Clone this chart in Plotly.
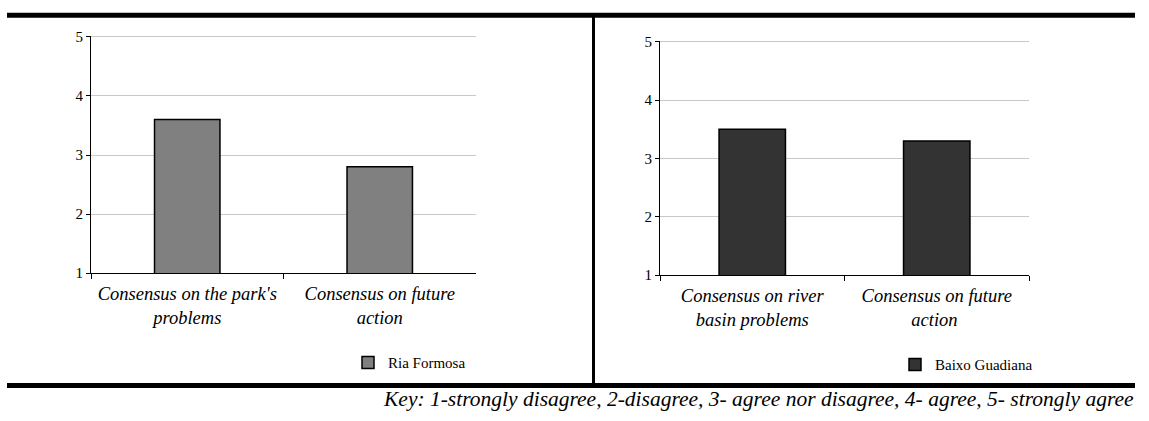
import plotly.graph_objects as go

W, H = 1149, 421

# ---- data ----
left_categories = ["Consensus on the park's<br>problems", "Consensus on future<br>action"]
left_values = [3.6, 2.8]
left_series = "Ria Formosa"

right_categories = ["Consensus on river<br>basin problems", "Consensus on future<br>action "]
right_values = [3.5, 3.3]
right_series = "Baixo Guadiana"

y_ticks = [1, 2, 3, 4, 5]
y_range = [1, 5.02]
key_text = "Key: 1-strongly disagree, 2-disagree, 3- agree nor disagree, 4- agree, 5- strongly agree"

FONT = "Liberation Serif"

def px(x):
    return x / W

def py(y):
    return 1 - y / H

fig = go.Figure()
fig.add_trace(go.Bar(
    x=left_categories, y=left_values, name=left_series, width=0.34,
    marker=dict(color="#808080", line=dict(color="black", width=1.5)),
    xaxis="x", yaxis="y", legend="legend",
))
fig.add_trace(go.Bar(
    x=right_categories, y=right_values, name=right_series, width=0.36,
    marker=dict(color="#333333", line=dict(color="black", width=1.5)),
    xaxis="x2", yaxis="y2", legend="legend2",
))

xcommon = dict(
    type="category", range=[-0.5, 1.5], showline=True, linecolor="black", linewidth=1,
    ticks="outside", ticklen=5, tickcolor="black", tickson="boundaries",
    showgrid=False, fixedrange=True, ticklabelstandoff=4,
    tickfont=dict(family=FONT, size=18.5, color="black", style="italic"),
)
ycommon = dict(
    range=y_range, tickvals=y_ticks, showline=True, linecolor="black", linewidth=1,
    ticks="outside", ticklen=4, tickcolor="black", showgrid=True, gridcolor="#c8c8c8",
    gridwidth=1, zeroline=False, fixedrange=True,
    tickfont=dict(family=FONT, size=15, color="black"),
)

# left panel: value 1 at y=276px, value 5 at y=31px ; right: 1 at 278px, 5 at 36px
l_scale = (276 - 31) / 4
r_scale = (278 - 36) / 4
l_top = 31 - (y_range[1] - 5) * l_scale
r_top = 36 - (y_range[1] - 5) * r_scale

fig.update_layout(
    width=W, height=H,
    margin=dict(l=0, r=0, t=0, b=0),
    paper_bgcolor="white", plot_bgcolor="white",
    xaxis=dict(domain=[px(91), px(476)], anchor="y", **xcommon),
    yaxis=dict(domain=[py(276), py(l_top)], anchor="x", **ycommon),
    xaxis2=dict(domain=[px(660), px(1029)], anchor="y2", **xcommon),
    yaxis2=dict(domain=[py(278), py(r_top)], anchor="x2", **ycommon),
    legend=dict(x=px(348), y=py(369), xanchor="left", yanchor="middle",
                font=dict(family=FONT, size=15, color="black"), bgcolor="rgba(0,0,0,0)"),
    legend2=dict(x=px(895), y=py(371), xanchor="left", yanchor="middle",
                 font=dict(family=FONT, size=15, color="black"), bgcolor="rgba(0,0,0,0)"),
    showlegend=True,
    shapes=[
        dict(type="line", xref="paper", yref="paper", x0=px(7), x1=px(1135), y0=py(8.5), y1=py(8.5),
             line=dict(color="black", width=5)),
        dict(type="line", xref="paper", yref="paper", x0=px(7), x1=px(1135), y0=py(392.5), y1=py(392.5),
             line=dict(color="black", width=5)),
        dict(type="line", xref="paper", yref="paper", x0=px(593.5), x1=px(593.5), y0=py(8.5), y1=py(392.5),
             line=dict(color="black", width=3)),
    ],
    annotations=[
        dict(text=key_text, xref="paper", yref="paper", x=px(1136), y=py(406),
             xanchor="right", yanchor="middle", showarrow=False,
             font=dict(family=FONT, size=21.5, color="black", style="italic")),
    ],
)

fig.write_html(
    "out.html",
    config={"displayModeBar": False},
    post_script="document.body.style.margin='0px';document.body.style.overflow='hidden';",
)
